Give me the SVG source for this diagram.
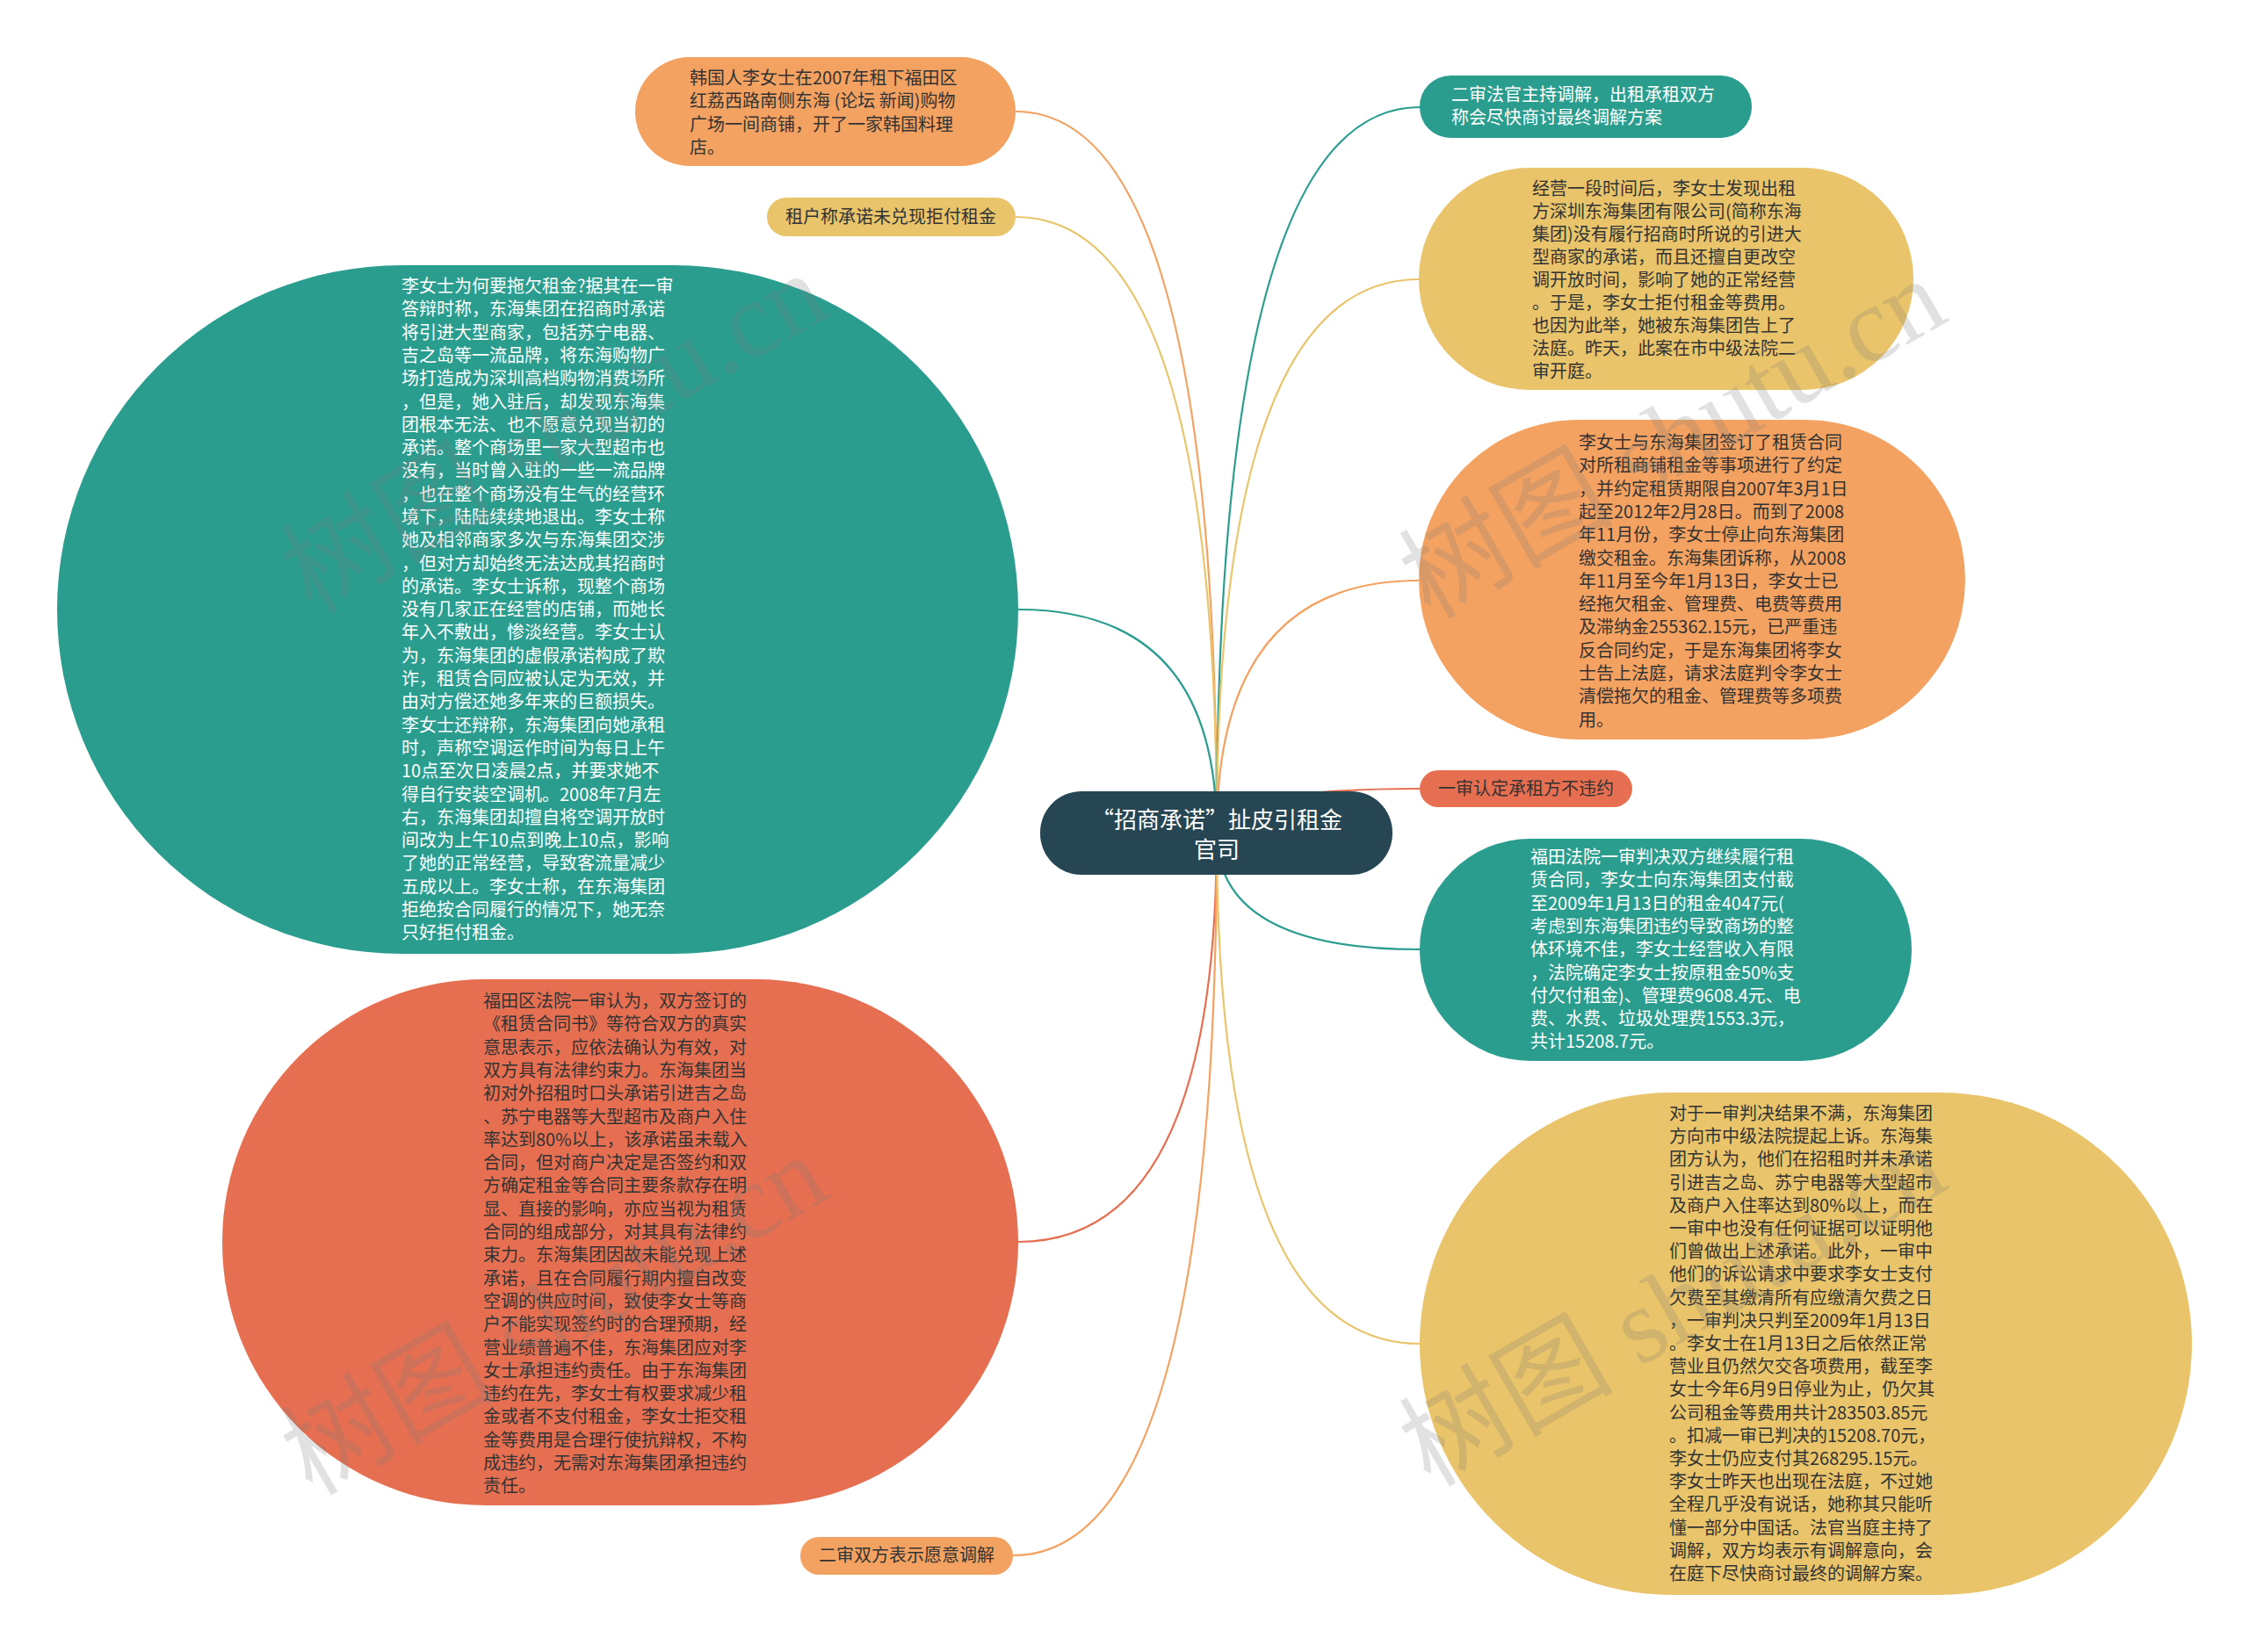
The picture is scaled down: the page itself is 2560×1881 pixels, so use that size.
<svg xmlns="http://www.w3.org/2000/svg" width="2560" height="1881" viewBox="0 0 2560 1881">
<style>
.t{font-family:"Noto Sans CJK SC","Liberation Sans",sans-serif;font-size:20px;fill:#333333}
.w{fill:#ffffff}
.c{text-anchor:middle}
.main{font-family:"Noto Sans CJK SC","Liberation Sans",sans-serif;font-size:26px;fill:#ffffff;text-anchor:middle}
.ln{fill:none;stroke-width:2.2}
.wm{font-family:"Liberation Serif","Noto Sans CJK SC",serif;font-size:122px;fill:#7a7a7a;opacity:0.22}
</style>
<rect width="2560" height="1881" fill="#ffffff"/>
<g id="connectors">
<path class="ln" stroke="#F4A261" d="M1385 948 Q1385 127 1156 127"/>
<path class="ln" stroke="#E9C46A" d="M1385 948 Q1385 247 1156 247"/>
<path class="ln" stroke="#2A9D8F" d="M1385 948 Q1385 694 1159 694"/>
<path class="ln" stroke="#E76F51" d="M1385 948 Q1385 1414 1159 1414"/>
<path class="ln" stroke="#F4A261" d="M1385 948 Q1385 1771 1153 1771"/>
<path class="ln" stroke="#2A9D8F" d="M1385 948 Q1385 122 1616 122"/>
<path class="ln" stroke="#E9C46A" d="M1385 948 Q1385 318 1615 318"/>
<path class="ln" stroke="#F4A261" d="M1385 948 Q1385 661 1615 661"/>
<path class="ln" stroke="#E76F51" d="M1385 948 Q1385 898 1616 898"/>
<path class="ln" stroke="#2A9D8F" d="M1385 948 Q1385 1081 1616 1081"/>
<path class="ln" stroke="#E9C46A" d="M1385 948 Q1385 1530 1616 1530"/>
</g>
<g id="center">
<rect x="1184" y="901" width="401" height="95" rx="47" fill="#264653"/>
<text class="main" x="1385" y="943">“招商承诺”扯皮引租金</text>
<text class="main" x="1385" y="977">官司</text>
</g>
<g id="n1">
<rect x="723" y="65" width="433" height="124" rx="62" fill="#F4A261"/>
<text class="t" x="785" y="96"><tspan x="785">韩国人李女士在2007年租下福田区</tspan><tspan x="785" dy="26.3">红荔西路南侧东海 (论坛 新闻)购物</tspan><tspan x="785" dy="26.3">广场一间商铺，开了一家韩国料理</tspan><tspan x="785" dy="26.3">店。</tspan></text>
</g>
<g id="n2">
<rect x="873" y="225" width="283" height="44" rx="22" fill="#E9C46A"/>
<text class="t c" x="1014" y="254">租户称承诺未兑现拒付租金</text>
</g>
<g id="n3">
<rect x="65" y="302" width="1094" height="784" rx="392" fill="#2A9D8F"/>
<text class="t w" x="457" y="333"><tspan x="457">李女士为何要拖欠租金?据其在一审</tspan><tspan x="457" dy="26.3">答辩时称，东海集团在招商时承诺</tspan><tspan x="457" dy="26.3">将引进大型商家，包括苏宁电器、</tspan><tspan x="457" dy="26.3">吉之岛等一流品牌，将东海购物广</tspan><tspan x="457" dy="26.3">场打造成为深圳高档购物消费场所</tspan><tspan x="457" dy="26.3">，但是，她入驻后，却发现东海集</tspan><tspan x="457" dy="26.3">团根本无法、也不愿意兑现当初的</tspan><tspan x="457" dy="26.3">承诺。整个商场里一家大型超市也</tspan><tspan x="457" dy="26.3">没有，当时曾入驻的一些一流品牌</tspan><tspan x="457" dy="26.3">，也在整个商场没有生气的经营环</tspan><tspan x="457" dy="26.3">境下，陆陆续续地退出。李女士称</tspan><tspan x="457" dy="26.3">她及相邻商家多次与东海集团交涉</tspan><tspan x="457" dy="26.3">，但对方却始终无法达成其招商时</tspan><tspan x="457" dy="26.3">的承诺。李女士诉称，现整个商场</tspan><tspan x="457" dy="26.3">没有几家正在经营的店铺，而她长</tspan><tspan x="457" dy="26.3">年入不敷出，惨淡经营。李女士认</tspan><tspan x="457" dy="26.3">为，东海集团的虚假承诺构成了欺</tspan><tspan x="457" dy="26.3">诈，租赁合同应被认定为无效，并</tspan><tspan x="457" dy="26.3">由对方偿还她多年来的巨额损失。</tspan><tspan x="457" dy="26.3">李女士还辩称，东海集团向她承租</tspan><tspan x="457" dy="26.3">时，声称空调运作时间为每日上午</tspan><tspan x="457" dy="26.3">10点至次日凌晨2点，并要求她不</tspan><tspan x="457" dy="26.3">得自行安装空调机。2008年7月左</tspan><tspan x="457" dy="26.3">右，东海集团却擅自将空调开放时</tspan><tspan x="457" dy="26.3">间改为上午10点到晚上10点，影响</tspan><tspan x="457" dy="26.3">了她的正常经营，导致客流量减少</tspan><tspan x="457" dy="26.3">五成以上。李女士称，在东海集团</tspan><tspan x="457" dy="26.3">拒绝按合同履行的情况下，她无奈</tspan><tspan x="457" dy="26.3">只好拒付租金。</tspan></text>
</g>
<g id="n4">
<rect x="253" y="1115" width="906" height="599" rx="299" fill="#E76F51"/>
<text class="t" x="550" y="1147"><tspan x="550">福田区法院一审认为，双方签订的</tspan><tspan x="550" dy="26.3">《租赁合同书》等符合双方的真实</tspan><tspan x="550" dy="26.3">意思表示，应依法确认为有效，对</tspan><tspan x="550" dy="26.3">双方具有法律约束力。东海集团当</tspan><tspan x="550" dy="26.3">初对外招租时口头承诺引进吉之岛</tspan><tspan x="550" dy="26.3">、苏宁电器等大型超市及商户入住</tspan><tspan x="550" dy="26.3">率达到80%以上，该承诺虽未载入</tspan><tspan x="550" dy="26.3">合同，但对商户决定是否签约和双</tspan><tspan x="550" dy="26.3">方确定租金等合同主要条款存在明</tspan><tspan x="550" dy="26.3">显、直接的影响，亦应当视为租赁</tspan><tspan x="550" dy="26.3">合同的组成部分，对其具有法律约</tspan><tspan x="550" dy="26.3">束力。东海集团因故未能兑现上述</tspan><tspan x="550" dy="26.3">承诺，且在合同履行期内擅自改变</tspan><tspan x="550" dy="26.3">空调的供应时间，致使李女士等商</tspan><tspan x="550" dy="26.3">户不能实现签约时的合理预期，经</tspan><tspan x="550" dy="26.3">营业绩普遍不佳，东海集团应对李</tspan><tspan x="550" dy="26.3">女士承担违约责任。由于东海集团</tspan><tspan x="550" dy="26.3">违约在先，李女士有权要求减少租</tspan><tspan x="550" dy="26.3">金或者不支付租金，李女士拒交租</tspan><tspan x="550" dy="26.3">金等费用是合理行使抗辩权，不构</tspan><tspan x="550" dy="26.3">成违约，无需对东海集团承担违约</tspan><tspan x="550" dy="26.3">责任。</tspan></text>
</g>
<g id="n5">
<rect x="911" y="1750" width="242" height="43" rx="21" fill="#F4A261"/>
<text class="t c" x="1032" y="1778">二审双方表示愿意调解</text>
</g>
<g id="n6">
<rect x="1616" y="86" width="378" height="71" rx="35" fill="#2A9D8F"/>
<text class="t w" x="1652" y="115"><tspan x="1652">二审法官主持调解，出租承租双方</tspan><tspan x="1652" dy="26.3">称会尽快商讨最终调解方案</tspan></text>
</g>
<g id="n7">
<rect x="1615" y="191" width="563" height="253" rx="126" fill="#E9C46A"/>
<text class="t" x="1744" y="222"><tspan x="1744">经营一段时间后，李女士发现出租</tspan><tspan x="1744" dy="26">方深圳东海集团有限公司(简称东海</tspan><tspan x="1744" dy="26">集团)没有履行招商时所说的引进大</tspan><tspan x="1744" dy="26">型商家的承诺，而且还擅自更改空</tspan><tspan x="1744" dy="26">调开放时间，影响了她的正常经营</tspan><tspan x="1744" dy="26">。于是，李女士拒付租金等费用。</tspan><tspan x="1744" dy="26">也因为此举，她被东海集团告上了</tspan><tspan x="1744" dy="26">法庭。昨天，此案在市中级法院二</tspan><tspan x="1744" dy="26">审开庭。</tspan></text>
</g>
<g id="n8">
<rect x="1615" y="478" width="622" height="364" rx="182" fill="#F4A261"/>
<text class="t" x="1797" y="511"><tspan x="1797">李女士与东海集团签订了租赁合同</tspan><tspan x="1797" dy="26.3">对所租商铺租金等事项进行了约定</tspan><tspan x="1797" dy="26.3">，并约定租赁期限自2007年3月1日</tspan><tspan x="1797" dy="26.3">起至2012年2月28日。而到了2008</tspan><tspan x="1797" dy="26.3">年11月份，李女士停止向东海集团</tspan><tspan x="1797" dy="26.3">缴交租金。东海集团诉称，从2008</tspan><tspan x="1797" dy="26.3">年11月至今年1月13日，李女士已</tspan><tspan x="1797" dy="26.3">经拖欠租金、管理费、电费等费用</tspan><tspan x="1797" dy="26.3">及滞纳金255362.15元，已严重违</tspan><tspan x="1797" dy="26.3">反合同约定，于是东海集团将李女</tspan><tspan x="1797" dy="26.3">士告上法庭，请求法庭判令李女士</tspan><tspan x="1797" dy="26.3">清偿拖欠的租金、管理费等多项费</tspan><tspan x="1797" dy="26.3">用。</tspan></text>
</g>
<g id="n9">
<rect x="1616" y="877" width="242" height="42" rx="21" fill="#E76F51"/>
<text class="t c" x="1737" y="905">一审认定承租方不违约</text>
</g>
<g id="n10">
<rect x="1616" y="955" width="560" height="253" rx="126" fill="#2A9D8F"/>
<text class="t w" x="1742" y="983"><tspan x="1742">福田法院一审判决双方继续履行租</tspan><tspan x="1742" dy="26.3">赁合同，李女士向东海集团支付截</tspan><tspan x="1742" dy="26.3">至2009年1月13日的租金4047元(</tspan><tspan x="1742" dy="26.3">考虑到东海集团违约导致商场的整</tspan><tspan x="1742" dy="26.3">体环境不佳，李女士经营收入有限</tspan><tspan x="1742" dy="26.3">，法院确定李女士按原租金50%支</tspan><tspan x="1742" dy="26.3">付欠付租金)、管理费9608.4元、电</tspan><tspan x="1742" dy="26.3">费、水费、垃圾处理费1553.3元，</tspan><tspan x="1742" dy="26.3">共计15208.7元。</tspan></text>
</g>
<g id="n11">
<rect x="1616" y="1244" width="879" height="572" rx="286" fill="#E9C46A"/>
<text class="t" x="1900" y="1275"><tspan x="1900">对于一审判决结果不满，东海集团</tspan><tspan x="1900" dy="26.2">方向市中级法院提起上诉。东海集</tspan><tspan x="1900" dy="26.2">团方认为，他们在招租时并未承诺</tspan><tspan x="1900" dy="26.2">引进吉之岛、苏宁电器等大型超市</tspan><tspan x="1900" dy="26.2">及商户入住率达到80%以上，而在</tspan><tspan x="1900" dy="26.2">一审中也没有任何证据可以证明他</tspan><tspan x="1900" dy="26.2">们曾做出上述承诺。此外，一审中</tspan><tspan x="1900" dy="26.2">他们的诉讼请求中要求李女士支付</tspan><tspan x="1900" dy="26.2">欠费至其缴清所有应缴清欠费之日</tspan><tspan x="1900" dy="26.2">，一审判决只判至2009年1月13日</tspan><tspan x="1900" dy="26.2">。李女士在1月13日之后依然正常</tspan><tspan x="1900" dy="26.2">营业且仍然欠交各项费用，截至李</tspan><tspan x="1900" dy="26.2">女士今年6月9日停业为止，仍欠其</tspan><tspan x="1900" dy="26.2">公司租金等费用共计283503.85元</tspan><tspan x="1900" dy="26.2">。扣减一审已判决的15208.70元，</tspan><tspan x="1900" dy="26.2">李女士仍应支付其268295.15元。</tspan><tspan x="1900" dy="26.2">李女士昨天也出现在法庭，不过她</tspan><tspan x="1900" dy="26.2">全程几乎没有说话，她称其只能听</tspan><tspan x="1900" dy="26.2">懂一部分中国话。法官当庭主持了</tspan><tspan x="1900" dy="26.2">调解，双方均表示有调解意向，会</tspan><tspan x="1900" dy="26.2">在庭下尽快商讨最终的调解方案。</tspan></text>
</g>
<g id="watermarks">
<text class="wm" transform="translate(355 700) rotate(-30)">树图 shutu.cn</text>
<text class="wm" transform="translate(355 1704) rotate(-30)">树图 shutu.cn</text>
<text class="wm" transform="translate(1628 706) rotate(-30)">树图 shutu.cn</text>
<text class="wm" transform="translate(1628 1694) rotate(-30)">树图 shutu.cn</text>
</g>
</svg>
